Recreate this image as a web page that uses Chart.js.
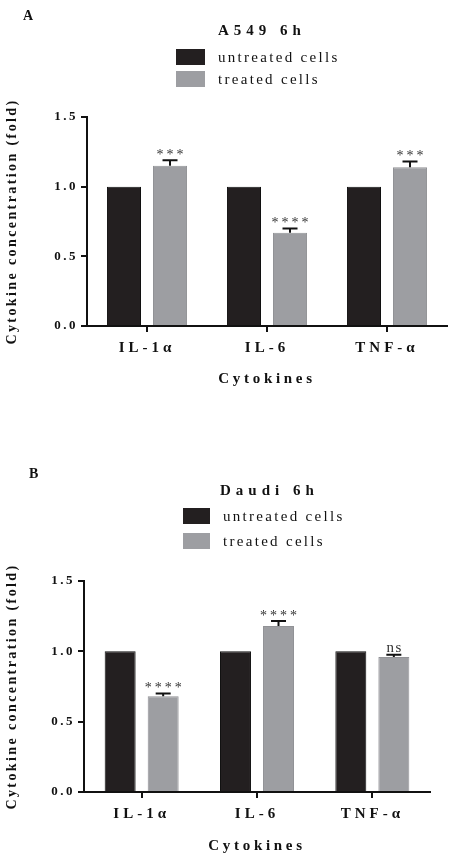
<!DOCTYPE html>
<html>
<head>
<meta charset="utf-8">
<script src="https://cdn.jsdelivr.net/npm/chart.js@4/dist/chart.umd.min.js"></script>
<style>
  body { margin: 0; width: 450px; height: 857px; overflow: hidden; background: #fff; position: relative; font-family: "Liberation Serif", "Times New Roman", serif; color: #111; }
  canvas { position: absolute; left: 0; }
  .letter { position: absolute; font-weight: bold; font-size: 14px; line-height: 16px; }
  .title { position: absolute; font-weight: bold; font-size: 15px; line-height: 18px; letter-spacing: 5px; }
  .legend { position: absolute; font-size: 15px; letter-spacing: 2.3px; }
  .legend .row { display: flex; align-items: center; height: 16px; }
  .legend .swatch { display: inline-block; height: 16px; margin-right: 13px; box-sizing: border-box; }
</style>
</head>
<body>
<canvas id="chartA" width="450" height="430" style="top:0"></canvas>
<canvas id="chartB" width="450" height="430" style="top:464px"></canvas>

<div class="letter" style="left:23px;top:8px">A</div>
<div class="title" style="left:218px;top:21px">A549 6h</div>
<div class="legend" id="legendA" style="left:176px;top:49px"></div>

<div class="letter" style="left:29px;top:466px">B</div>
<div class="title" style="left:220px;top:481px">Daudi 6h</div>
<div class="legend" id="legendB" style="left:183px;top:508px"></div>

<script>
const cytokines = ["IL-1α", "IL-6", "TNF-α"];
const seriesNames = ["untreated cells", "treated cells"];
const yTicks = [0, 0.5, 1.0, 1.5];

const a549Untreated = [1.0, 1.0, 1.0];
const a549Treated = [1.15, 0.67, 1.14];
const a549Sem = [0.04, 0.03, 0.04];
const a549Marks = ["***", "****", "***"];

const daudiUntreated = [1.0, 1.0, 1.0];
const daudiTreated = [0.68, 1.18, 0.96];
const daudiSem = [0.02, 0.035, 0.015];
const daudiMarks = ["****", "****", "ns"];

const serif = '"Liberation Serif", "Times New Roman", serif';
const spacing = { x: { labels: 4, title: 3.7 }, y: { labels: 2.5, title: 2.4 } };

// canvas letterSpacing per axis part (chart.js has no option for it)
const spacingPlugin = {
  id: "spacing",
  beforeDraw(chart) {
    for (const id in chart.scales) {
      const scale = chart.scales[id];
      if (scale.spaced) continue;
      const sp = spacing[id];
      const drawLabels = scale.drawLabels;
      const drawTitle = scale.drawTitle;
      scale.drawLabels = function (area) {
        this.ctx.save();
        this.ctx.letterSpacing = sp.labels + "px";
        drawLabels.call(this, area);
        this.ctx.restore();
      };
      scale.drawTitle = function () {
        const t = this.top, b = this.bottom;
        this.ctx.save();
        this.ctx.letterSpacing = sp.title + "px";
        if (id === "y") { this.top = t - 100; this.bottom = b + 100; }
        drawTitle.call(this);
        this.top = t; this.bottom = b;
        this.ctx.restore();
      };
      scale.spaced = true;
    }
  }
};

// error bars (upper only) and significance marks on the treated series
const errorPlugin = {
  id: "errorMarks",
  afterDatasetsDraw(chart, args, opts) {
    const ctx = chart.ctx;
    const yScale = chart.scales.y;
    const meta = chart.getDatasetMeta(1);
    const values = chart.data.datasets[1].data;
    ctx.save();
    ctx.strokeStyle = "#111";
    ctx.lineWidth = 2;
    meta.data.forEach((bar, i) => {
      const top = yScale.getPixelForValue(values[i] + opts.sem[i]);
      ctx.beginPath();
      ctx.moveTo(bar.x, bar.y);
      ctx.lineTo(bar.x, top);
      ctx.moveTo(bar.x - 7.5, top);
      ctx.lineTo(bar.x + 7.5, top);
      ctx.stroke();
      const mark = opts.marks[i];
      const stars = mark.indexOf("*") >= 0;
      ctx.font = (stars ? "14px " : "15px ") + serif;
      ctx.fillStyle = "#333";
      ctx.textAlign = "center";
      ctx.textBaseline = "alphabetic";
      ctx.letterSpacing = stars ? "3px" : "1.5px";
      ctx.fillText(mark, bar.x + (stars ? 1.5 : 0.75), top - (stars ? 1.5 : 3));
    });
    ctx.restore();
  }
};

function makeChart(id, untreated, treated, sem, marks, box) {
  return new Chart(document.getElementById(id), {
    type: "bar",
    data: {
      labels: cytokines,
      datasets: [
        {
          label: seriesNames[0],
          data: untreated,
          backgroundColor: "#231f20",
          borderColor: "#111",
          borderWidth: 1,
          categoryPercentage: box.cat,
          barPercentage: box.bar,
        },
        {
          label: seriesNames[1],
          data: treated,
          backgroundColor: "#9d9ea2",
          borderColor: "#919296",
          borderWidth: 1,
          categoryPercentage: box.cat,
          barPercentage: box.bar,
        },
      ],
    },
    options: {
      responsive: false,
      animation: false,
      layout: { padding: { top: box.top, right: 450 - box.right, left: 0, bottom: 0 } },
      plugins: {
        legend: { display: false },
        tooltip: { enabled: false },
        errorMarks: { sem: sem, marks: marks },
      },
      scales: {
        x: {
          grid: { drawOnChartArea: false, offset: false, tickLength: 6, color: "#111", lineWidth: 2 },
          border: { color: "#111", width: 2 },
          ticks: { color: "#111", padding: 7, font: { family: serif, size: 15, weight: "bold" } },
          title: {
            display: true,
            text: "Cytokines",
            color: "#111",
            font: { family: serif, size: 15, weight: "bold" },
            padding: { top: 0, bottom: 430 - box.titleY - 9 },
          },
          afterFit: (s) => { s.height = 430 - box.bottom; },
        },
        y: {
          min: 0,
          max: 1.5,
          afterBuildTicks: (s) => { s.ticks = yTicks.map((v) => ({ value: v })); },
          grid: { drawOnChartArea: false, tickLength: 6, color: "#111", lineWidth: 2 },
          border: { color: "#111", width: 2 },
          ticks: {
            color: "#111",
            padding: 3,
            font: { family: serif, size: 13, weight: "bold" },
            callback: (v) => Number(v).toFixed(1),
          },
          title: {
            display: true,
            text: "Cytokine concentration (fold)",
            color: "#111",
            font: { family: serif, size: 14, weight: "bold" },
            padding: { top: 4, bottom: 0 },
          },
          afterFit: (s) => { s.width = box.left; },
        },
      },
    },
    plugins: [spacingPlugin, errorPlugin],
  });
}

function buildLegend(chart, el, boxWidth, gap) {
  chart.data.datasets.forEach((ds, i) => {
    const row = document.createElement("div");
    row.className = "row";
    if (i > 0) row.style.marginTop = gap + "px";
    const sw = document.createElement("span");
    sw.className = "swatch";
    sw.style.width = boxWidth + "px";
    sw.style.background = ds.backgroundColor;
    const tx = document.createElement("span");
    tx.textContent = ds.label;
    row.append(sw, tx);
    el.append(row);
  });
}

const chartA = makeChart("chartA", a549Untreated, a549Treated, a549Sem, a549Marks,
  { top: 117, bottom: 326, left: 87, right: 447, titleY: 379, cat: 0.767, bar: 0.74 });
const chartB = makeChart("chartB", daudiUntreated, daudiTreated, daudiSem, daudiMarks,
  { top: 117, bottom: 328, left: 84, right: 430, titleY: 382, cat: 0.746, bar: 0.72 });

buildLegend(chartA, document.getElementById("legendA"), 29, 6);
buildLegend(chartB, document.getElementById("legendB"), 27, 9);
</script>
</body>
</html>
